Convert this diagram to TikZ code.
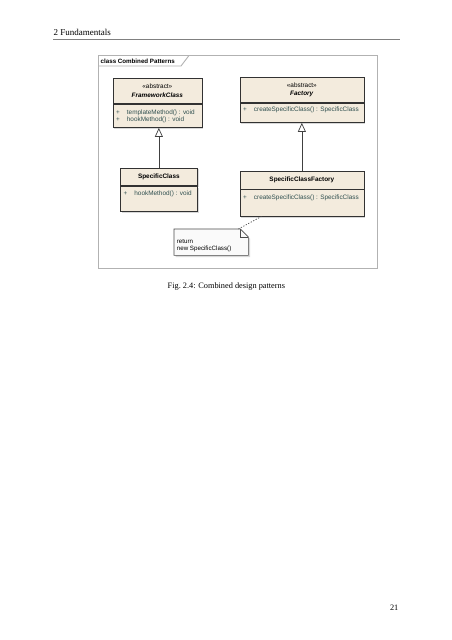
\documentclass[tikz,border=0pt]{standalone}
\usepackage{fontspec}
\setmainfont{Liberation Serif}
\setsansfont{Liberation Sans}
\usetikzlibrary{positioning,arrows.meta,shadows}
\definecolor{boxfill}{RGB}{243,235,221}
\definecolor{boxline}{RGB}{50,50,50}
\definecolor{opcolor}{RGB}{48,80,80}
\definecolor{framegray}{RGB}{178,178,178}
\definecolor{notefill}{RGB}{250,250,250}
\newcommand{\umlfont}{\sffamily\fontsize{6.4}{8.8}\selectfont}
\newcommand{\opsfont}{\sffamily\fontsize{6.4}{7.6}\selectfont}

\begin{document}
\begin{tikzpicture}[x=1pt,y=-1pt]
       \tikzstyle{classhead}=[draw=boxline, fill=boxfill, line width=0.7pt, inner sep=0pt, align=center, font=\umlfont,
          drop shadow={shadow xshift=1.6pt, shadow yshift=-1.6pt, opacity=0.3}]
       \tikzstyle{classbody}=[classhead, anchor=north]
       \tikzstyle{opstext}=[inner sep=0pt, align=left, font=\opsfont, text=opcolor]
       \tikzstyle{inherit}=[draw=black!75, line width=0.7pt, -{Triangle[open, length=9pt, width=8pt]}]
       \tikzstyle{noteline}=[draw=black!70, line width=0.6pt, fill=notefill]
       \tikzstyle{notelink}=[draw=black!70, line width=0.7pt, dash pattern=on 1.2pt off 1.6pt]
       \tikzstyle{frameline}=[draw=framegray, line width=0.9pt]
       \tikzstyle{pagetext}=[inner sep=0pt, font=\fontsize{8.3}{10}\selectfont]
       \useasboundingbox[fill=white] (0,0) rectangle (452,640);
       \node[pagetext, font=\fontsize{9}{10}\selectfont, anchor=base west] (chapHead) at (53.5,35) {2 Fundamentals};
       \draw[draw=black!50, line width=0.8pt] (53,39.5) -- (400,39.5);
       \draw[frameline] (98,55.5) rectangle (377.5,268);
       \draw[frameline] (98,66) -- (181,66) -- (189,55.5);
       \node[inner sep=0pt, anchor=west, font=\sffamily\bfseries\fontsize{6.2}{7}\selectfont] (frameTitle) at (100.5,61) {class Combined Patterns};
       \node[classhead, minimum width=89pt, minimum height=25.5pt, anchor=north west] (fwHead) at (112.5,77.5)
          {«abstract»\\\textbf{\textit{FrameworkClass}}};
       \node[classbody, minimum width=89pt, minimum height=23.5pt] (fwBody) at (fwHead.south) {};
       \node[opstext, below right=5.6pt and 3.5pt of fwBody.north west] (fwOps)
          {+\hspace{7pt}templateMethod() : void\\+\hspace{7pt}hookMethod() : void};
       \node[classhead, minimum width=124pt, minimum height=25pt, anchor=north west] (facHead) at (239.5,77)
          {«abstract»\\\textbf{\textit{Factory}}};
       \node[classbody, minimum width=124pt, minimum height=19.5pt] (facBody) at (facHead.south) {};
       \node[opstext, below right=3.7pt and 3.5pt of facBody.north west] (facOps)
          {+\hspace{7pt}createSpecificClass() : SpecificClass};
       \node[classhead, minimum width=77pt, minimum height=17.5pt, anchor=north west] (scHead) at (120,167.5)
          {\textbf{SpecificClass}};
       \node[classbody, minimum width=77pt, minimum height=25.5pt] (scBody) at (scHead.south) {};
       \node[opstext, below right=5.4pt and 3.5pt of scBody.north west] (scOps)
          {+\hspace{7pt}hookMethod() : void};
       \node[classhead, minimum width=124pt, minimum height=17.5pt, anchor=north west] (scfHead) at (239.5,171)
          {\textbf{SpecificClassFactory}};
       \node[classbody, minimum width=124pt, minimum height=26.5pt] (scfBody) at (scfHead.south) {};
       \node[opstext, below right=5.4pt and 3.5pt of scfBody.north west] (scfOps)
          {+\hspace{7pt}createSpecificClass() : SpecificClass};
       \draw[inherit] (scHead.north) -- (scHead.north |- fwBody.south);
       \draw[inherit] (scfHead.north) -- (scfHead.north |- facBody.south);
       \node[minimum width=74pt, minimum height=26pt, inner sep=0pt, anchor=north west] (note) at (174,229) {};
       \path[noteline, drop shadow={shadow xshift=1.6pt, shadow yshift=-1.6pt, opacity=0.3}]
          (note.north west) -- ([xshift=-8pt]note.north east) -- ([yshift=-8pt]note.north east)
          -- (note.south east) -- (note.south west) -- cycle;
       \draw[noteline, fill=none] ([xshift=-8pt]note.north east) |- ([yshift=-8pt]note.north east);
       \node[opstext, text=black, font=\sffamily\fontsize{6.2}{7}\selectfont, above right=3.5pt and 2.7pt of note.south west] (noteText)
          {return\\new SpecificClass()};
       \draw[notelink] ([xshift=-10pt]note.north east) -- ([xshift=22pt]scfBody.south west);
       \node[pagetext, anchor=base west] (caption) at (167.5,288.5) {Fig.~2.4: Combined design patterns};
       \node[pagetext, anchor=base east] (pageNum) at (398.5,610.5) {21};
      \end{tikzpicture}
\end{document}
